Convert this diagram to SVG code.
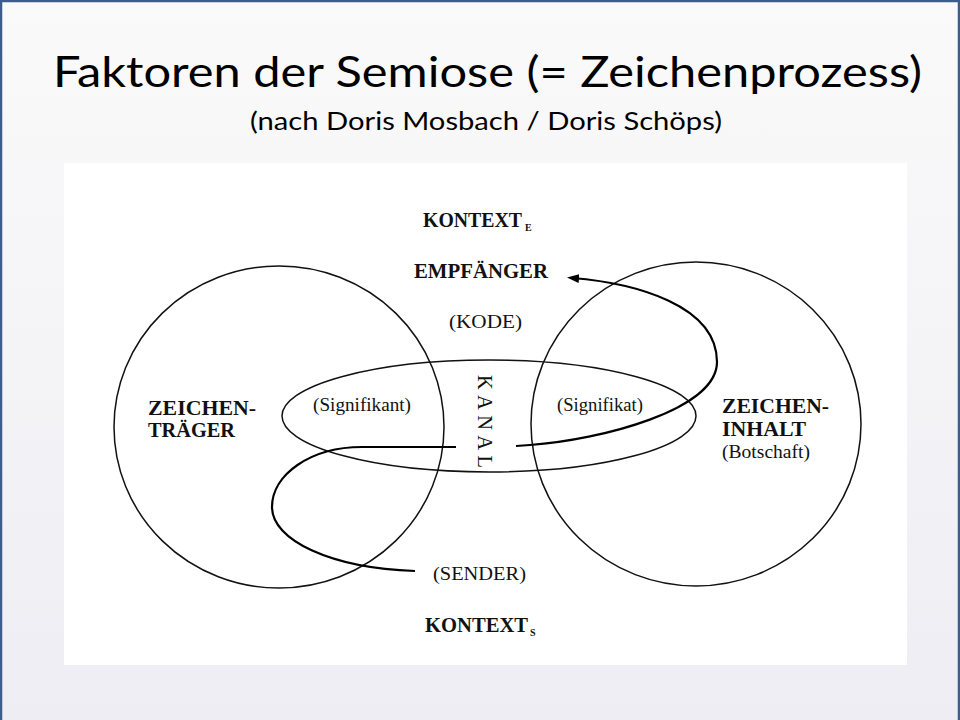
<svg xmlns="http://www.w3.org/2000/svg" width="960" height="720" viewBox="0 0 960 720">
  <defs>
    <linearGradient id="bg" x1="0" y1="0" x2="0" y2="1">
      <stop offset="0" stop-color="#fafafa"/>
      <stop offset="1" stop-color="#eeedf3"/>
    </linearGradient>
    <marker id="arrow" viewBox="0 0 12 9" refX="7" refY="4.5" markerWidth="12" markerHeight="9" markerUnits="userSpaceOnUse" orient="auto">
      <path d="M0,0 L12,4.5 L0,9 Z" fill="#000"/>
    </marker>
    <style>
      .title { font-family: Lato, "Open Sans", sans-serif; fill: #000; }
      .lbl { font-family: "Liberation Serif", "Times New Roman", serif; fill: #111; }
      .b { font-weight: bold; font-size: 20.5px; }
      .r { font-size: 19px; }
      .sub { font-size: 10px; font-weight: bold; }
      .shape { fill: none; stroke: #111; stroke-width: 1.5; }
      .conn { fill: none; stroke: #000; stroke-width: 2.2; }
    </style>
  </defs>

  <rect x="0" y="0" width="960" height="720" fill="url(#bg)"/>
  <path d="M1,720 V1 H959 V720" fill="none" stroke="#3d5d8c" stroke-width="2.5"/>

  <text class="title" x="53" y="87" font-size="43" textLength="869" lengthAdjust="spacingAndGlyphs">Faktoren der Semiose (= Zeichenprozess)</text>
  <text class="title" x="250" y="130" font-size="25.5" textLength="472" lengthAdjust="spacingAndGlyphs">(nach Doris Mosbach / Doris Schöps)</text>

  <rect x="64" y="163" width="843" height="502" fill="#ffffff"/>

  <g id="zeichentraeger">
    <ellipse class="shape" cx="279" cy="427" rx="165" ry="161"/>
    <text class="lbl b" x="148" y="415" textLength="108" lengthAdjust="spacingAndGlyphs">ZEICHEN-</text>
    <text class="lbl b" x="148" y="437" textLength="87" lengthAdjust="spacingAndGlyphs">TRÄGER</text>
  </g>

  <g id="zeicheninhalt">
    <ellipse class="shape" cx="696" cy="424" rx="165" ry="162"/>
    <text class="lbl b" x="722" y="413" textLength="107" lengthAdjust="spacingAndGlyphs">ZEICHEN-</text>
    <text class="lbl b" x="722" y="436" textLength="84" lengthAdjust="spacingAndGlyphs">INHALT</text>
    <text class="lbl r" x="722" y="458" textLength="88" lengthAdjust="spacingAndGlyphs">(Botschaft)</text>
  </g>

  <g id="kanal">
    <ellipse class="shape" cx="489" cy="416" rx="207" ry="56"/>
    <text class="lbl r" x="313" y="411" textLength="98" lengthAdjust="spacingAndGlyphs">(Signifikant)</text>
    <text class="lbl r" x="557" y="411" textLength="86" lengthAdjust="spacingAndGlyphs">(Signifikat)</text>
    <text class="lbl" font-size="20.5" transform="translate(478,375) rotate(90)" x="0" y="0" textLength="93" lengthAdjust="spacing">KANAL</text>
  </g>

  <g id="kontext-e">
    <text class="lbl b" x="423" y="227" textLength="99" lengthAdjust="spacingAndGlyphs">KONTEXT</text>
    <text class="lbl sub" x="525" y="231">E</text>
  </g>

  <g id="empfaenger">
    <text class="lbl b" x="414" y="278" textLength="134" lengthAdjust="spacingAndGlyphs">EMPFÄNGER</text>
  </g>

  <g id="kode">
    <text class="lbl r" x="449" y="328" textLength="73" lengthAdjust="spacingAndGlyphs">(KODE)</text>
  </g>

  <g id="sender">
    <text class="lbl r" x="433" y="580" textLength="93" lengthAdjust="spacingAndGlyphs">(SENDER)</text>
  </g>

  <g id="kontext-s">
    <text class="lbl b" x="425" y="632" textLength="103" lengthAdjust="spacingAndGlyphs">KONTEXT</text>
    <text class="lbl sub" x="530" y="636">S</text>
  </g>

  <g id="connectors">
    <path class="conn" d="M456,447 L362,447 C310,447 272,475 272,507 C272,540 330,568 415,571"/>
    <path class="conn" d="M516,446 L530,445 C600,440 717,410 717,362 C717,305 635,283 572,278" marker-end="url(#arrow)"/>
  </g>
</svg>
